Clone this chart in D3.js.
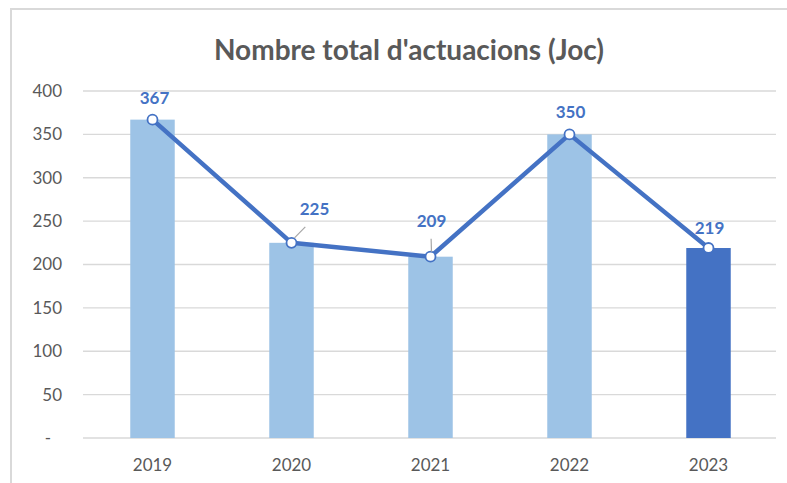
<!DOCTYPE html>
<html>
<head>
<meta charset="utf-8">
<script src="https://cdn.jsdelivr.net/npm/d3@7"></script>
<style>
  body { margin: 0; background: #fff; }
  svg { display: block; font-family: Lato, "Open Sans", sans-serif; }
</style>
</head>
<body>
<svg width="787" height="483"></svg>
<script>
const years = ["2019", "2020", "2021", "2022", "2023"];
const values = [367, 225, 209, 350, 219];
const yTicks = [0, 50, 100, 150, 200, 250, 300, 350, 400];
// label offset from the point [dx, dy], and whether a leader line is drawn
const labelOffsets = [[2, -16, false], [23, -28, true], [1, -30, true], [1, -16, false], [1, -14, false]];

const width = 787, height = 483;
const margin = { top: 91, right: 9, bottom: 45, left: 83 };
const svg = d3.select("svg");

// chart frame
svg.append("rect").attr("x", 11).attr("y", 9).attr("width", width).attr("height", height)
  .attr("fill", "#fff").attr("stroke", "#d9d9d9").attr("stroke-width", 2);

const x = d3.scaleBand().domain(years).range([margin.left, width - margin.right]).paddingInner(0.68).paddingOuter(0.34);
const y = d3.scaleLinear().domain([0, 400]).range([height - margin.bottom, margin.top]);

svg.append("text")
  .attr("x", 409).attr("y", 60)
  .attr("text-anchor", "middle")
  .style("font-size", "28px").style("font-weight", "700").style("fill", "#595959")
  .text("Nombre total d'actuacions (Joc)");

// gridlines
svg.append("g").selectAll("line").data(yTicks).join("line")
  .attr("x1", margin.left).attr("x2", width - margin.right - 2)
  .attr("y1", d => y(d)).attr("y2", d => y(d))
  .attr("stroke", "#d9d9d9").attr("stroke-width", 1.3);

// y axis labels (zero shown as an accounting dash)
svg.append("g").selectAll("text").data(yTicks).join("text")
  .attr("x", d => d === 0 ? 48 : 62).attr("y", d => y(d)).attr("dy", "0.35em")
  .attr("text-anchor", d => d === 0 ? "middle" : "end")
  .style("font-size", "17px").style("fill", "#595959")
  .text(d => d === 0 ? "-" : d);

// x axis labels
svg.append("g").selectAll("text").data(years).join("text")
  .attr("x", d => x(d) + x.bandwidth() / 2).attr("y", height - 12)
  .attr("text-anchor", "middle")
  .style("font-size", "17px").style("fill", "#595959")
  .text(d => d);

// bars
svg.append("g").selectAll("rect").data(values).join("rect")
  .attr("x", (d, i) => x(years[i]))
  .attr("y", d => y(d))
  .attr("width", x.bandwidth())
  .attr("height", d => y(0) - y(d))
  .attr("fill", (d, i) => i === years.length - 1 ? "#4472c4" : "#9dc3e6");

const cx = i => x(years[i]) + x.bandwidth() / 2;

// line
const line = d3.line().x((d, i) => cx(i)).y(d => y(d));
svg.append("path").datum(values)
  .attr("fill", "none").attr("stroke", "#4472c4").attr("stroke-width", 4.5)
  .attr("stroke-linejoin", "round")
  .attr("d", line);

// markers
svg.append("g").selectAll("circle").data(values).join("circle")
  .attr("cx", (d, i) => cx(i)).attr("cy", d => y(d)).attr("r", 5)
  .attr("fill", "#fff").attr("stroke", "#4472c4").attr("stroke-width", 1.8);

// leader lines
svg.append("g").selectAll("line").data(values.filter((d, i) => labelOffsets[i][2]).map(d => values.indexOf(d))).join("line")
  .attr("x1", i => cx(i) + labelOffsets[i][0] * 0.6)
  .attr("y1", i => y(values[i]) + labelOffsets[i][1] + 12)
  .attr("x2", i => cx(i) + (labelOffsets[i][0] > 5 ? 3 : 1))
  .attr("y2", i => y(values[i]) - 5)
  .attr("stroke", "#a6a6a6").attr("stroke-width", 1.2);

// value labels
svg.append("g").selectAll("text").data(values).join("text")
  .attr("x", (d, i) => cx(i) + labelOffsets[i][0])
  .attr("y", (d, i) => y(d) + labelOffsets[i][1])
  .attr("text-anchor", "middle")
  .style("font-size", "17px").style("font-weight", "700").style("fill", "#4472c4")
  .text(d => d);
</script>
</body>
</html>
